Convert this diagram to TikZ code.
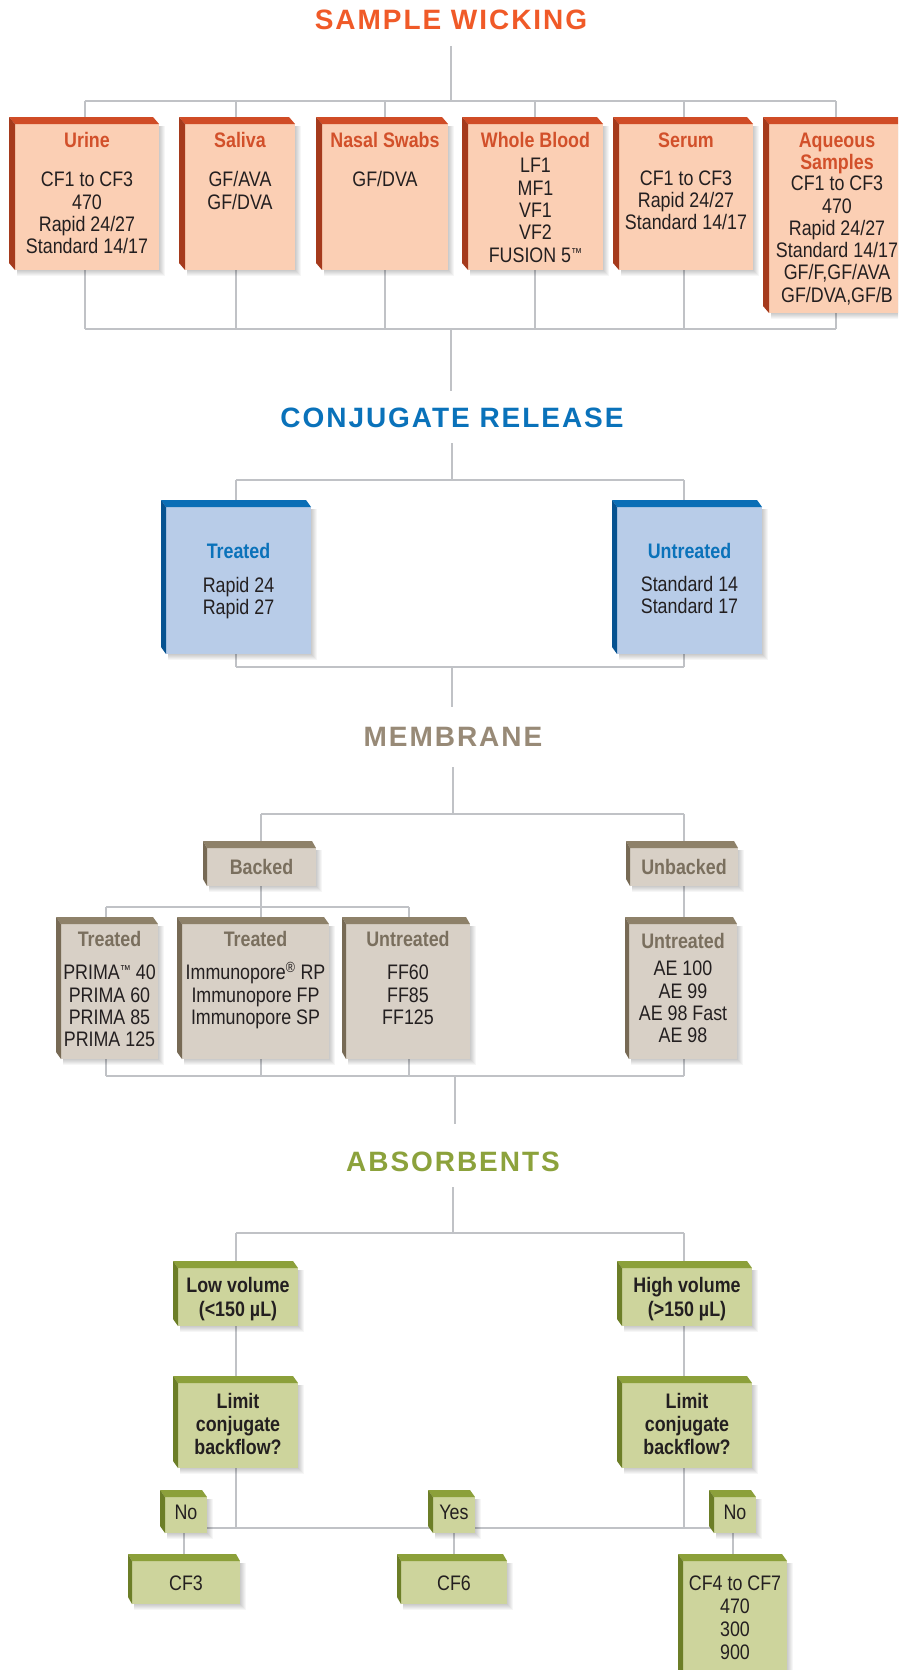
\documentclass[tikz,border=0pt]{standalone}
\usepackage{fontspec}
\setmainfont{Liberation Sans}[FakeStretch=0.85]
\newfontfamily\titlefont{Liberation Sans}[LetterSpace=7]
\usetikzlibrary{calc}
\pgfdeclarelayer{bg}
\pgfdeclarelayer{paper}
\pgfsetlayers{paper,bg,main}
\definecolor{otitle}{HTML}{F05A28}
\definecolor{oface}{HTML}{FBCFB4}
\definecolor{otop}{HTML}{D04C26}
\definecolor{oside}{HTML}{A53A1C}
\definecolor{ohead}{HTML}{D2502A}
\definecolor{btitle}{HTML}{0A72BA}
\definecolor{bface}{HTML}{B8CCE8}
\definecolor{btop}{HTML}{0A6EB6}
\definecolor{bside}{HTML}{065290}
\definecolor{bhead}{HTML}{0A72BA}
\definecolor{mtitle}{HTML}{988A77}
\definecolor{mface}{HTML}{D8D0C6}
\definecolor{mtop}{HTML}{8E8169}
\definecolor{mside}{HTML}{776A55}
\definecolor{mhead}{HTML}{7A6F5E}
\definecolor{gtitle}{HTML}{8CA23C}
\definecolor{gface}{HTML}{CDD49C}
\definecolor{gtop}{HTML}{8CA03A}
\definecolor{gside}{HTML}{6C7E27}
\definecolor{bodyc}{HTML}{231F20}
\definecolor{connc}{HTML}{C0C2C6}
\newcommand{\hdo}[1]{{\bfseries\color{ohead}#1}}
\newcommand{\hdb}[1]{{\bfseries\color{bhead}#1}}
\newcommand{\hdm}[1]{{\bfseries\color{mhead}#1}}
\newcommand{\smtm}{\raisebox{5pt}{\fontsize{13}{13}\selectfont ™}}
% name, x1, y1 (front top), x2, y2, scheme, side depth
\newcommand{\bevbox}[7]{%
  \foreach \d in {1,...,6}{\fill[black, opacity=0.035] ({#2+2},{#3+2}) rectangle ({#4+\d},{#5+\d});}
  \node[face=#6, minimum width={#4-#2}, minimum height={#5-#3}, anchor=north west] (#1) at (#2,#3) {};
  \fill[#6top] (#1.north west) -- ++(-#7,-7) -- ++({#4-#2},0) -- (#1.north east) -- cycle;
  \fill[#6side] (#1.north west) -- ++(-#7,-7) -- ++(0,{#5-#3}) -- (#1.south west) -- cycle;
}
\newcommand{\btext}[3]{%
  \node[txt, anchor=north] (#1t) at ($(#1.north)+(0,#2)$) {#3};
}
\tikzset{
  conn/.style={draw=connc, line width=2pt},
  face/.style={fill=#1face, draw=none, inner sep=0, outer sep=0},
  txt/.style={align=center, inner sep=0, font=\fontsize{21}{22.3}\selectfont, text=bodyc},
  ttl/.style={inner sep=0, font=\titlefont\bfseries\fontsize{28}{30}\selectfont},
}
\begin{document}
\begin{tikzpicture}[x=1pt,y=-1pt]
\begin{pgfonlayer}{paper}
\fill[white] (0,0) rectangle (898,1670);
\end{pgfonlayer}
\useasboundingbox (0,0) rectangle (898,1670);
\clip (0,0) rectangle (898,1670);

% ---------------- titles ----------------
\node[ttl, text=otitle] (title1) at (451,20) {SAMPLE WICKING};
\node[ttl, text=btitle] (title2) at (452,418) {CONJUGATE RELEASE};
\node[ttl, text=mtitle] (title3) at (453,737) {MEMBRANE};
\node[ttl, text=gtitle] (title4) at (453,1162) {ABSORBENTS};

% ---------------- sample wicking ----------------
\bevbox{urine}{15}{124}{159}{270}{o}{6}
\bevbox{saliva}{185}{124}{295}{270}{o}{6}
\bevbox{nasal}{322}{124}{448}{270}{o}{6}
\bevbox{blood}{468}{124}{603}{270}{o}{6}
\bevbox{serum}{619}{124}{753}{270}{o}{6}
\bevbox{aqueous}{769}{124}{905}{313}{o}{6}
\btext{urine}{8.5}{\hdo{Urine}\\[16.7pt]CF1 to CF3\\470\\Rapid 24/27\\Standard 14/17}
\btext{saliva}{8.5}{\hdo{Saliva}\\[16.7pt]GF/AVA\\GF/DVA}
\btext{nasal}{8.5}{\hdo{Nasal Swabs}\\[16.7pt]GF/DVA}
\btext{blood}{8.5}{\hdo{Whole Blood}\\[2.7pt]LF1\\MF1\\VF1\\VF2\\FUSION 5\smtm}
\btext{serum}{8.5}{\hdo{Serum}\\[15.7pt]CF1 to CF3\\Rapid 24/27\\Standard 14/17}
\btext{aqueous}{8.5}{\hdo{Aqueous}\\\hdo{Samples}\\[-1pt]CF1 to CF3\\470\\Rapid 24/27\\Standard 14/17\\GF/F,GF/AVA\\GF/DVA,GF/B}

% ---------------- conjugate release ----------------
\bevbox{ctreated}{166}{507}{311}{654}{b}{5}
\bevbox{cuntreated}{617}{507}{762}{654}{b}{5}
\btext{ctreated}{36.5}{\hdb{Treated}\\[11pt]Rapid 24\\Rapid 27}
\btext{cuntreated}{36.5}{\hdb{Untreated}\\[10pt]Standard 14\\Standard 17}

% ---------------- membrane ----------------
\bevbox{backed}{207}{848}{316}{886}{m}{4}
\bevbox{unbacked}{630}{848}{738}{886}{m}{4}
\bevbox{mt1}{61}{924}{158}{1059}{m}{5}
\bevbox{mt2}{182}{924}{329}{1059}{m}{5}
\bevbox{mu}{346}{924}{470}{1059}{m}{4}
\bevbox{ae}{629}{924}{737}{1059}{m}{4}
\btext{backed}{11.5}{\hdm{Backed}}
\btext{unbacked}{11.5}{\hdm{Unbacked}}
\btext{mt1}{7.5}{\hdm{Treated}\\[10.7pt]PRIMA\smtm{} 40\\PRIMA 60\\PRIMA 85\\PRIMA 125}
\btext{mt2}{7.5}{\hdm{Treated}\\[10.7pt]Immunopore\textsuperscript{®} RP\\Immunopore FP\\Immunopore SP}
\btext{mu}{7.5}{\hdm{Untreated}\\[10.7pt]FF60\\FF85\\FF125}
\btext{ae}{9.5}{\hdm{Untreated}\\[4.7pt]AE 100\\AE 99\\AE 98 Fast\\AE 98}

% ---------------- absorbents ----------------
\bevbox{low}{178}{1268}{298}{1326}{g}{5}
\bevbox{liml}{178}{1383}{298}{1468}{g}{5}
\bevbox{high}{622}{1268}{752}{1326}{g}{5}
\bevbox{limr}{622}{1383}{752}{1468}{g}{5}
\bevbox{nol}{165}{1497}{207}{1533}{g}{5}
\bevbox{yes}{433}{1497}{475}{1533}{g}{5}
\bevbox{nor}{714}{1497}{756}{1533}{g}{5}
\bevbox{cf3}{132}{1561}{240}{1604}{g}{4}
\bevbox{cf6}{401}{1561}{507}{1604}{g}{4}
\bevbox{cf4}{683}{1561}{787}{1685}{g}{5}
\btext{low}{9.5}{\bfseries Low volume\\[1.7pt]\bfseries (<150 µL)}
\btext{high}{9.5}{\bfseries High volume\\[1.7pt]\bfseries (>150 µL)}
\btext{liml}{10.5}{\bfseries Limit\\[0.7pt]\bfseries conjugate\\[0.7pt]\bfseries backflow?}
\btext{limr}{10.5}{\bfseries Limit\\[0.7pt]\bfseries conjugate\\[0.7pt]\bfseries backflow?}
\btext{nol}{7.5}{No}
\btext{yes}{7.5}{Yes}
\btext{nor}{7.5}{No}
\btext{cf3}{14.5}{CF3}
\btext{cf6}{14.5}{CF6}
\btext{cf4}{14.5}{CF4 to CF7\\[0.7pt]470\\[0.7pt]300\\[0.7pt]900}

% ---------------- connectors (behind) ----------------
\coordinate (s1) at (451,46);   \coordinate (tb1) at (451,101);
\coordinate (bb1) at (451,329); \coordinate (s2) at (451,391);
\coordinate (s3) at (452,443);  \coordinate (tb2) at (452,480);
\coordinate (tb2l) at (236,480); \coordinate (tb2r) at (684,480);
\coordinate (bb2) at (452,667); \coordinate (bb2l) at (236,667); \coordinate (bb2r) at (684,667);
\coordinate (s4) at (452,707);
\coordinate (s5) at (453,767);  \coordinate (tb3) at (453,814);
\coordinate (tb3l) at (261,814); \coordinate (tb3r) at (684,814);
\coordinate (mb1) at (106,907); \coordinate (mb2) at (261,907); \coordinate (mb3) at (409,907);
\coordinate (bb3l) at (106,1076); \coordinate (bb3r) at (684,1076);
\coordinate (bb3) at (455,1076); \coordinate (s6) at (455,1124);
\coordinate (s7) at (453,1187); \coordinate (tb4) at (453,1233);
\coordinate (tb4l) at (236,1233); \coordinate (tb4r) at (684,1233);
\coordinate (abl) at (184,1528); \coordinate (abr) at (733,1528);
\coordinate (vurine) at (85,101);  \coordinate (vsaliva) at (236,101);
\coordinate (vnasal) at (385,101); \coordinate (vblood) at (535,101);
\coordinate (vserum) at (684,101); \coordinate (vaqueous) at (836,101);

\begin{pgfonlayer}{bg}
% sample wicking
\draw[conn] (s1) -- (tb1);
\draw[conn] (vurine) -- (vaqueous);
\draw[conn] (vurine |- bb1) -- (vaqueous |- bb1);
\foreach \n in {urine,saliva,nasal,blood,serum,aqueous}{
  \draw[conn] (v\n) -- (\n.north -| v\n);
  \draw[conn] (\n.south -| v\n) -- (v\n |- bb1);
}
\draw[conn] (bb1) -- (s2);
% conjugate release
\draw[conn] (s3) -- (tb2);
\draw[conn] (tb2l) -- (tb2r);
\draw[conn] (tb2l) -- (ctreated.north -| tb2l);
\draw[conn] (ctreated.south -| bb2l) -- (bb2l);
\draw[conn] (tb2r) -- (cuntreated.north -| tb2r);
\draw[conn] (cuntreated.south -| bb2r) -- (bb2r);
\draw[conn] (bb2l) -- (bb2r);
\draw[conn] (bb2) -- (s4);
% membrane
\draw[conn] (s5) -- (tb3);
\draw[conn] (tb3l) -- (tb3r);
\draw[conn] (tb3l) -- (backed.north -| tb3l);
\draw[conn] (backed.south -| mb2) -- (mb2);
\draw[conn] (mb1) -- (mb3);
\draw[conn] (mb1) -- (mt1.north -| mb1);
\draw[conn] (mb2) -- (mt2.north -| mb2);
\draw[conn] (mb3) -- (mu.north -| mb3);
\draw[conn] (mt1.south -| mb1) -- (mb1 |- bb3l);
\draw[conn] (mt2.south -| mb2) -- (mb2 |- bb3l);
\draw[conn] (mu.south -| mb3) -- (mb3 |- bb3l);
\draw[conn] (tb3r) -- (unbacked.north -| tb3r);
\draw[conn] (unbacked.south -| tb3r) -- (ae.north -| tb3r);
\draw[conn] (ae.south -| bb3r) -- (bb3r);
\draw[conn] (bb3l) -- (bb3r);
\draw[conn] (bb3) -- (s6);
% absorbents
\draw[conn] (s7) -- (tb4);
\draw[conn] (tb4l) -- (tb4r);
\draw[conn] (tb4l) -- (low.north -| tb4l);
\draw[conn] (low.south -| tb4l) -- (liml.north -| tb4l);
\draw[conn] (liml.south -| tb4l) -- (tb4l |- abl);
\draw[conn] (tb4r) -- (high.north -| tb4r);
\draw[conn] (high.south -| tb4r) -- (limr.north -| tb4r);
\draw[conn] (limr.south -| tb4r) -- (tb4r |- abl);
\draw[conn] (abl) -- (abr);
\draw[conn] (nol.south -| abl) -- (cf3.north -| abl);
\draw[conn] (yes.south) -- (cf6.north -| yes.south);
\draw[conn] (nor.south -| abr) -- (cf4.north -| abr);
\end{pgfonlayer}
\end{tikzpicture}
\end{document}
